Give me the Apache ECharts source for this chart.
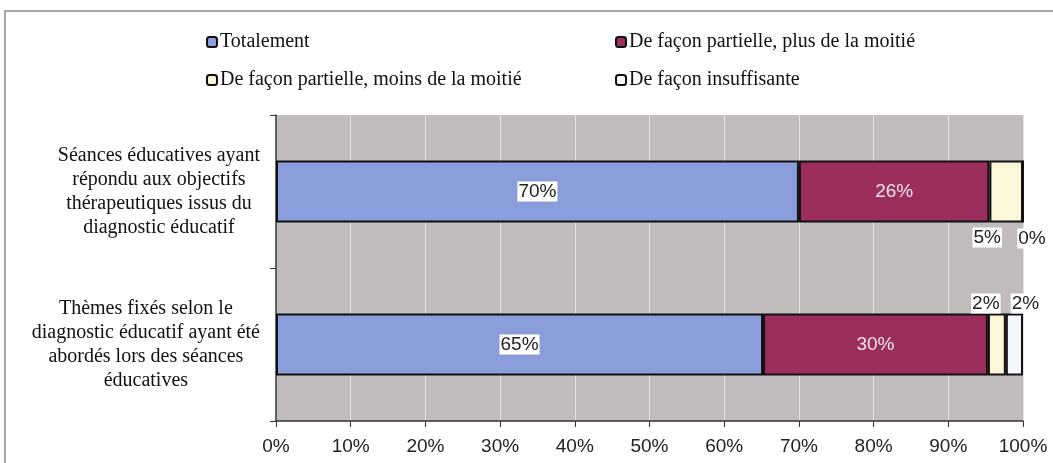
<!DOCTYPE html>
<html><head><meta charset="utf-8">
<script src="https://cdn.jsdelivr.net/npm/echarts@6/dist/echarts.min.js"></script>
<style>html,body{margin:0;padding:0;background:#fff}#c{width:1053px;height:463px}</style>
</head><body><div id="c"></div>
<script>
var categories = [
  'Séances éducatives ayant\nrépondu aux objectifs\nthérapeutiques issus du\ndiagnostic éducatif',
  'Thèmes fixés selon le\ndiagnostic éducatif ayant été\nabordés lors des séances\néducatives'
];
var seriesNames = ['Totalement', 'De façon partielle, plus de la moitié', 'De façon partielle, moins de la moitié', 'De façon insuffisante'];
var totalement = [70, 65.2];
var partiellePlus = [25.5, 30.1];
var partielleMoins = [4.5, 2.4];
var insuffisante = [0, 2.3];
var xTicks = [0, 10, 20, 30, 40, 50, 60, 70, 80, 90, 100];

var colors = ['#8c9ddc', '#9b2e5c', '#fbf7d8', '#f3f6fb'];
var fmt = function (p) { return Math.round(p.value) + '%'; };
var labelBase = { show: true, formatter: fmt, fontFamily: 'Liberation Sans', fontSize: 19 };
var whiteBox = { backgroundColor: '#ffffff', padding: [1, 1, 0, 1], color: '#222' };

function mkSeries(i, data, label) {
  return {
    name: seriesNames[i], type: 'bar', stack: 'all', barWidth: 62,
    itemStyle: { color: colors[i], borderColor: '#111', borderWidth: 2 },
    data: data, label: label, emphasis: { disabled: true }, animation: false
  };
}

var legendText = { fontFamily: 'Liberation Serif', fontSize: 20, color: '#111', padding: [0, 0, 0, -2] };
var chart = echarts.init(document.getElementById('c'), null, { renderer: 'canvas' });
chart.setOption({
  animation: false,
  graphic: [{ type: 'rect', shape: { x: 5, y: 11, width: 1100, height: 600 }, style: { fill: 'none', stroke: '#8a8a8a', lineWidth: 1.5 }, z: 0 }],
  legend: [
    { data: [seriesNames[0], seriesNames[2]], orient: 'vertical', left: 201, top: 27, itemWidth: 10, itemHeight: 10, itemGap: 18, textStyle: legendText },
    { data: [seriesNames[1], seriesNames[3]], orient: 'vertical', left: 610, top: 27, itemWidth: 10, itemHeight: 10, itemGap: 18, textStyle: legendText }
  ],
  grid: { left: 276, right: 30, top: 115, bottom: 42, show: true, backgroundColor: '#c0bbbd', borderWidth: 0 },
  xAxis: {
    type: 'value', min: 0, max: 100, interval: 10,
    axisLine: { show: true, lineStyle: { color: '#333', width: 1.5 } },
    axisTick: { show: true, length: 6, lineStyle: { color: '#333' } },
    splitLine: { show: true, lineStyle: { color: '#e4e1e3', width: 1 } },
    axisLabel: { formatter: function (v) { return xTicks.indexOf(v) >= 0 ? v + '%' : ''; }, fontFamily: 'Liberation Sans', fontSize: 19, color: '#222', margin: 16 }
  },
  yAxis: {
    type: 'category', data: categories, inverse: true,
    axisLine: { show: true, lineStyle: { color: '#333', width: 1.5 } },
    axisTick: { show: true, length: 6, lineStyle: { color: '#333' } },
    axisLabel: {
      align: 'right', margin: 16,
      formatter: function (v) { return v.split('\n').map(function (l) { return '{c|' + l + '}'; }).join('\n'); },
      rich: { c: { align: 'center', fontFamily: 'Liberation Serif', fontSize: 20, lineHeight: 24, color: '#111' } }
    }
  },
  series: [
    mkSeries(0, totalement, Object.assign({}, labelBase, whiteBox, { position: 'inside' })),
    mkSeries(1, partiellePlus, Object.assign({}, labelBase, { position: 'inside', color: '#f0e4ea' })),
    mkSeries(2, partielleMoins.map(function (v, k) {
      return { value: v, label: k === 0 ? { position: 'bottom', offset: [-19, 0], distance: 5 } : { position: 'top', offset: [-11, 0], distance: 0 } };
    }), Object.assign({}, labelBase, whiteBox)),
    mkSeries(3, insuffisante.map(function (v, k) {
      return { value: v, label: k === 0 ? { position: 'bottom', offset: [9, 0], distance: 5 } : { position: 'top', offset: [11, 0], distance: 0 } };
    }), Object.assign({}, labelBase, whiteBox))
  ]
});
</script></body></html>
